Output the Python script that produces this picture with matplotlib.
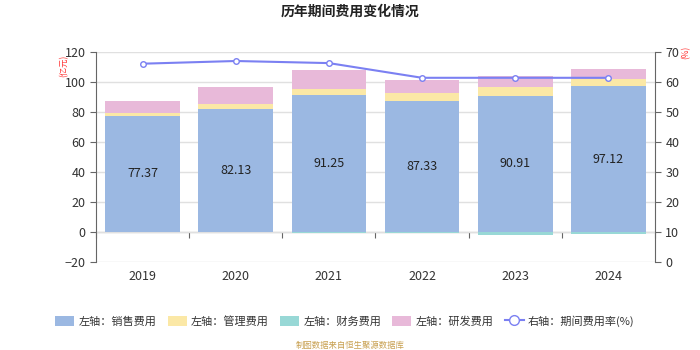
import matplotlib
matplotlib.use('Agg')
import matplotlib.pyplot as plt
from matplotlib.lines import Line2D
from matplotlib.patches import Patch
import numpy as np

plt.rcParams['font.family'] = ['Noto Sans CJK SC', 'DejaVu Sans']

# Period expenses (100M CNY) and expense ratio (%)
years = ['2019', '2020', '2021', '2022', '2023', '2024']
sales_cost = [77.37, 82.13, 91.25, 87.33, 90.91, 97.12]
admin_cost = [2.1, 3.2, 4.1, 5.1, 5.5, 4.7]
finance_cost = [0.0, 0.0, -0.6, -0.7, -2.2, -1.6]
rd_cost = [8.0, 11.4, 12.7, 8.9, 7.6, 6.6]
expense_ratio = [66.1, 67.0, 66.3, 61.4, 61.4, 61.4]

c_sales = '#9bb8e2'
c_admin = '#fbe8a6'
c_fin = '#98d8d6'
c_rd = '#e8b9d9'
c_line = '#7b80f2'

fig = plt.figure(figsize=(7, 3.5), dpi=100)
ax = fig.add_axes([96 / 700, 1 - 262 / 350, 559 / 700, 210 / 350])
ax2 = ax.twinx()

x = np.arange(len(years))
w = 0.8
sales = np.array(sales_cost)
admin = np.array(admin_cost)
ax.bar(x, sales, w, color=c_sales, zorder=2)
ax.bar(x, admin, w, bottom=sales, color=c_admin, zorder=2)
ax.bar(x, finance_cost, w, color=c_fin, zorder=2)
ax.bar(x, rd_cost, w, bottom=sales + admin, color=c_rd, zorder=2)

for xi, v in zip(x, sales_cost):
    ax.text(xi, v / 2, f'{v:.2f}', ha='center', va='center', fontsize=9, color='#222222', zorder=3)

ax.set_xlim(-0.5, len(years) - 0.5)
ax.set_ylim(-20, 120)
ax.set_yticks(range(-20, 121, 20))
ax.grid(axis='y', color='#e0e0e0', linewidth=1, zorder=0)
ax.set_xticks(x)
ax.set_xticklabels(years)
ax.tick_params(axis='x', length=0, pad=6, labelsize=9, colors='#333333')
ax.tick_params(axis='y', length=4, direction='out', labelsize=9, colors='#333333', color='#666666')
for s in ['top', 'bottom', 'right']:
    ax.spines[s].set_visible(False)
ax.spines['left'].set_color('#666666')

# category axis line drawn at zero
sec = ax.secondary_xaxis(20 / 140)
sec.set_xticks(np.arange(-0.5, len(years), 1.0))
sec.set_xticklabels([])
sec.tick_params(length=4, color='#666666')
sec.spines['bottom'].set_color('#666666')

ax2.plot(x, expense_ratio, color=c_line, linewidth=1.5, marker='o', markersize=4,
         markerfacecolor='white', markeredgecolor=c_line, zorder=4)
ax2.set_ylim(0, 70)
ax2.set_yticks(range(0, 71, 10))
ax2.tick_params(axis='y', length=4, direction='out', labelsize=9, colors='#333333', color='#666666')
for s in ['top', 'bottom', 'left']:
    ax2.spines[s].set_visible(False)
ax2.spines['right'].set_color('#666666')

fig.text(0.5, 1 - 12 / 350, '历年期间费用变化情况', ha='center', va='center', fontsize=10, fontweight='bold', color='#222222')
fig.text(64 / 700, 1 - 66 / 350, '(亿元)', rotation=90, ha='center', va='center', fontsize=6, color='#ff3333')
fig.text(686 / 700, 1 - 52 / 350, '(%)', rotation=90, ha='center', va='center', fontsize=6, color='#ff3333')

handles = [
    Patch(facecolor=c_sales, label='左轴：销售费用'),
    Patch(facecolor=c_admin, label='左轴：管理费用'),
    Patch(facecolor=c_fin, label='左轴：财务费用'),
    Patch(facecolor=c_rd, label='左轴：研发费用'),
    Line2D([0], [0], color=c_line, marker='o', markersize=7, markerfacecolor='white',
           markeredgecolor=c_line, label='右轴：期间费用率(%)'),
]
fig.legend(handles=handles, loc='center', bbox_to_anchor=(0.493, 1 - 321 / 350), ncol=5,
           frameon=False, fontsize=8, handlelength=1.7, handleheight=1.0, columnspacing=1.0,
           handletextpad=0.4, labelcolor='#333333')

fig.text(0.5, 1 - 345 / 350, '制图数据来自恒生聚源数据库', ha='center', va='center', fontsize=6, color='#c8a050')

fig.savefig('out.png', dpi=100)
